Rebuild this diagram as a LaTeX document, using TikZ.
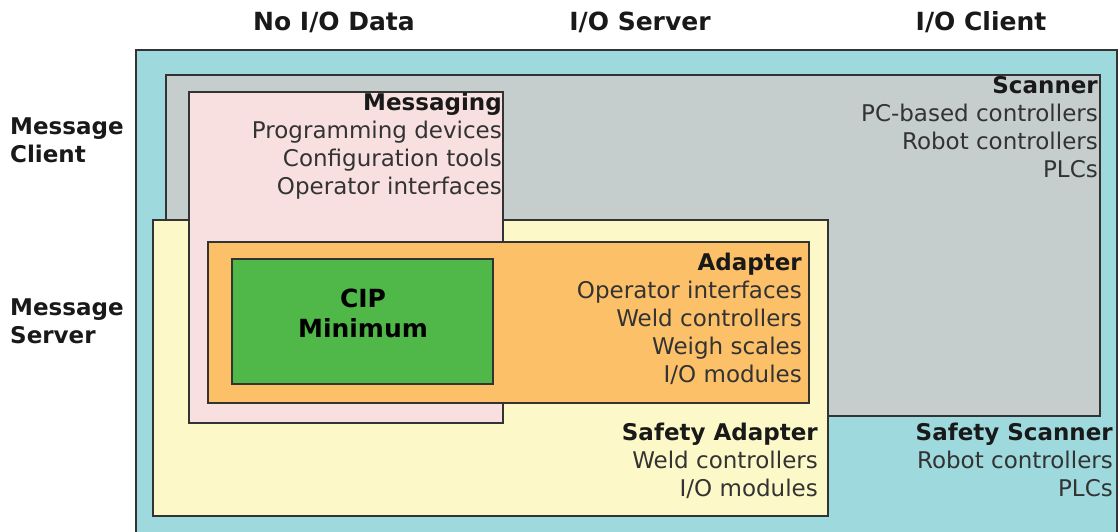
\documentclass[tikz,border=0pt]{standalone}
\usepackage{fontspec}
\setmainfont{DejaVu Sans}
\begin{document}
\begin{tikzpicture}[x=1pt,y=-1pt,
  region/.style={draw=black!80, line width=1.8pt, inner sep=0pt, outer sep=0pt, anchor=north west},
  body/.style={font=\fontsize{23}{28}\selectfont, text=black!80, align=right, anchor=base east, inner sep=0pt},
  head/.style={font=\fontsize{23}{28}\selectfont\bfseries, text=black!90, inner sep=0pt},
  colhead/.style={head, font=\fontsize{25}{30}\selectfont\bfseries, anchor=base},
  ]
\definecolor{cteal}{RGB}{158,217,222}
\definecolor{cgray}{RGB}{197,205,205}
\definecolor{cpink}{RGB}{248,224,224}
\definecolor{cyellow}{RGB}{253,248,199}
\definecolor{corange}{RGB}{252,192,104}
\definecolor{cgreen}{RGB}{80,184,72}
\useasboundingbox (0,0) rectangle (1119,531);
% regions
\node[region, fill=cteal, minimum width=981pt, minimum height=500pt] (client) at (136,50) {};
\node[region, fill=cgray, minimum width=934pt, minimum height=341pt] (scanner) at (166,75) {};
\node[region, fill=cyellow, minimum width=675pt, minimum height=296pt] (safeadapt) at (153,220) {};
\node[region, fill=cpink, minimum width=314pt, minimum height=331pt] (messaging) at (189,92) {};
\node[region, fill=corange, minimum width=601pt, minimum height=161pt] (adapter) at (208,242) {};
\node[region, fill=cgreen, minimum width=261pt, minimum height=125pt] (cip) at (232,259) {};
% headers
\node[colhead] (h1) at (334,30) {No I/O Data};
\node[colhead] (h2) at (640,30) {I/O Server};
\node[colhead] (h3) at (981,30) {I/O Client};
\node[head, anchor=base west, align=left] (r1) at (10,162) {Message\\Client};
\node[head, anchor=base west, align=left] (r2) at (10,343) {Message\\Server};
% labels (base anchor = baseline of last line)
\node[body] (tmsg) at (502,194) {\textbf{\color{black!90}Messaging}\\Programming devices\\Configuration tools\\Operator interfaces};
\node[body] (tscan) at (1098,177) {\textbf{\color{black!90}Scanner}\\PC-based controllers\\Robot controllers\\PLCs};
\node[body] (tadapt) at (802,382) {\textbf{\color{black!90}Adapter}\\Operator interfaces\\Weld controllers\\Weigh scales\\I/O modules};
\node[body] (tsafea) at (818,496) {\textbf{\color{black!90}Safety Adapter}\\Weld controllers\\I/O modules};
\node[body] (tsafes) at (1113,496) {\textbf{\color{black!90}Safety Scanner}\\Robot controllers\\PLCs};
\node[head, font=\fontsize{25}{30}\selectfont\bfseries, text=black, align=center, anchor=base] (tcip) at (363,337) {CIP\\Minimum};
\end{tikzpicture}
\end{document}
